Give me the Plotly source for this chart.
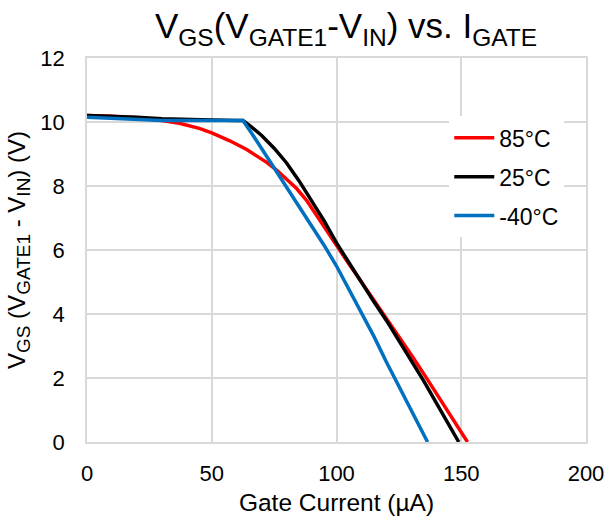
import plotly.graph_objects as go

x_85 = [0, 10, 20, 25, 30, 37, 45, 50, 57, 64, 72, 76, 80, 84, 88, 92, 96, 100, 105, 110, 115, 120, 125, 130, 135, 140, 145, 150, 152.5]
y_85 = [10.2, 10.18, 10.13, 10.1, 10.05, 9.96, 9.8, 9.66, 9.42, 9.14, 8.74, 8.5, 8.22, 7.92, 7.55, 7.08, 6.6, 6.12, 5.56, 5.0, 4.44, 3.88, 3.3, 2.72, 2.13, 1.53, 0.92, 0.31, 0.0]

x_25 = [0, 10, 20, 30, 40, 50, 60, 62.5, 66, 70, 75, 80, 85, 90, 95, 100, 105, 110, 115, 120, 125, 130, 135, 140, 145, 149]
y_25 = [10.2, 10.18, 10.15, 10.1, 10.07, 10.06, 10.05, 10.05, 9.84, 9.58, 9.18, 8.72, 8.16, 7.56, 6.92, 6.22, 5.6, 4.98, 4.38, 3.8, 3.18, 2.55, 1.9, 1.22, 0.55, 0.0]

x_m40 = [0, 10, 20, 30, 40, 50, 60, 62.5, 66, 70, 75, 80, 85, 90, 95, 100, 105, 110, 115, 120, 125, 130, 136.5]
y_m40 = [10.15, 10.12, 10.08, 10.05, 10.05, 10.05, 10.05, 10.05, 9.65, 9.17, 8.57, 7.95, 7.35, 6.75, 6.15, 5.5, 4.78, 4.05, 3.3, 2.5, 1.75, 1.0, 0.0]

series_names = ["85°C", "25°C", "-40°C"]
colors = ["#FF0000", "#000000", "#0070C0"]

x_ticks = [0, 50, 100, 150, 200]
y_ticks = [0, 2, 4, 6, 8, 10, 12]

FONT = "Liberation Sans, Arial, sans-serif"


def sub(t, px):
    return f"<sub><span style='font-size:{px}px'>{t}</span></sub>"


fig = go.Figure()
for i, (xs, ys) in enumerate([(x_85, y_85), (x_25, y_25), (x_m40, y_m40)]):
    fig.add_trace(go.Scatter(
        x=xs, y=ys, mode="lines", name=series_names[i],
        line=dict(color=colors[i], width=3.5),
        legendgroup=str(i),
    ))

y_title = f"V{sub('GS', 19)} (V{sub('GATE1', 19)} - V{sub('IN', 19)}) (V)"

fig.update_layout(
    width=609, height=527,
    margin=dict(l=87, r=23, t=58, b=85),
    paper_bgcolor="white", plot_bgcolor="white",
    font=dict(family=FONT, size=22, color="#000000"),
    title=dict(
        text="V<sub>GS</sub>(V<sub>GATE1</sub>-V<sub>IN</sub>) vs. I<sub>GATE</sub>",
        font=dict(family=FONT, size=35, color="#000000"),
        x=346 / 609, xanchor="center", y=1 - 26 / 527, yanchor="middle",
    ),
    showlegend=True,
    legend=dict(
        x=0.726, y=0.848, xanchor="left", yanchor="top",
        bgcolor="white", borderwidth=0,
        font=dict(family=FONT, size=23, color="#000000"),
        tracegroupgap=6, traceorder="grouped",
        itemwidth=40,
    ),
    xaxis=dict(
        range=[0, 200], tickvals=x_ticks, ticktext=[str(v) for v in x_ticks],
        showgrid=True, gridcolor="#D9D9D9", gridwidth=1.5,
        showline=True, linecolor="#D9D9D9", linewidth=1.5, mirror=True,
        zeroline=False, ticks="", ticklabelstandoff=11, automargin=False,
        tickfont=dict(family=FONT, size=22),
        title=dict(text="Gate Current (µA)", font=dict(family=FONT, size=24.5), standoff=9),
    ),
    yaxis=dict(
        range=[0, 12], tickvals=y_ticks, ticktext=[str(v) for v in y_ticks],
        showgrid=True, gridcolor="#D9D9D9", gridwidth=1.5,
        showline=True, linecolor="#D9D9D9", linewidth=1.5, mirror=True,
        zeroline=False, ticks="", ticklabelstandoff=16, automargin=False,
        tickfont=dict(family=FONT, size=22),
        title=dict(text=y_title, font=dict(family=FONT, size=24), standoff=8),
    ),
)

fig.write_html("out.html", config={"displayModeBar": False},
               post_script="document.body.style.margin='0';document.body.style.overflow='hidden';")
